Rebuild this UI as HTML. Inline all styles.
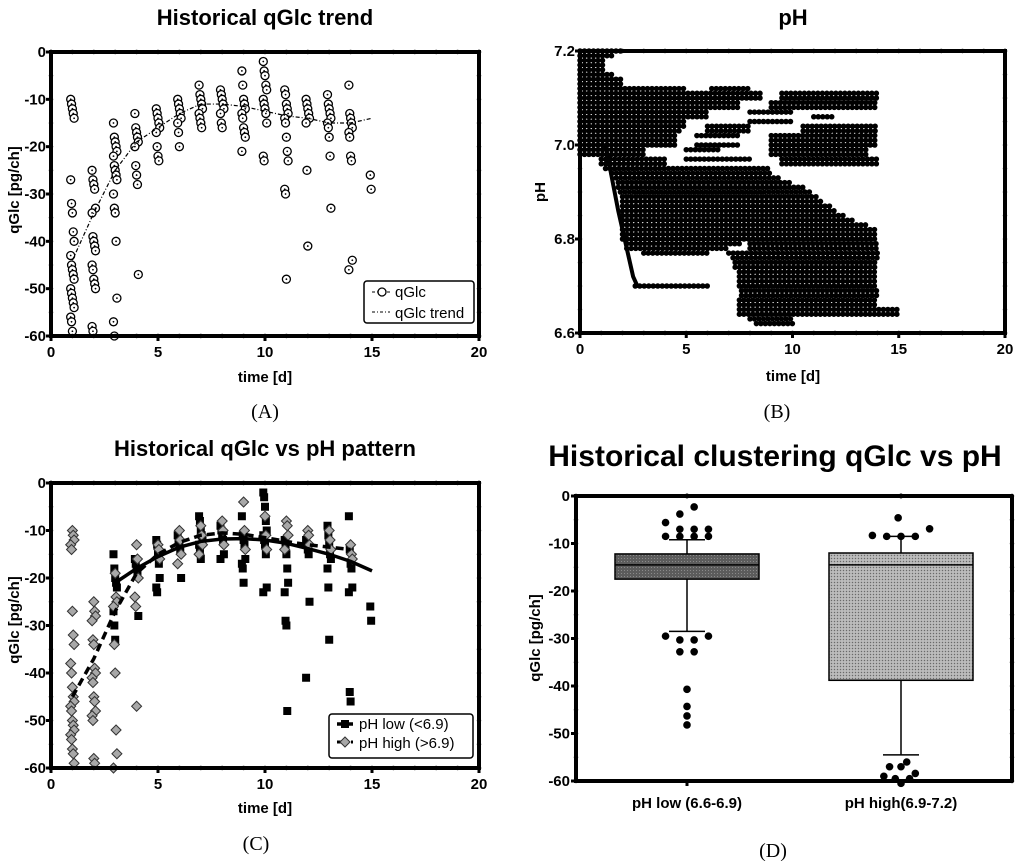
<!DOCTYPE html>
<html><head><meta charset="utf-8"><style>
body{margin:0;background:#fff;}
svg{display:block;font-family:"Liberation Sans",Arial,sans-serif;}
.tl{font-size:15px;font-weight:bold;}
.ttl{font-size:22px;font-weight:bold;}
.pl{font-family:"Liberation Serif",serif;font-size:20px;}
</style></head><body>
<svg id="fig" width="1024" height="861" viewBox="0 0 1024 861">
<defs>
<pattern id="patLow" width="3" height="3" patternUnits="userSpaceOnUse"><rect width="3" height="3" fill="#5c5c5c"/><rect width="1" height="1" fill="#8a8a8a"/></pattern>
<pattern id="patHigh" width="3" height="3" patternUnits="userSpaceOnUse"><rect width="3" height="3" fill="#b0b0b0"/><rect width="1" height="1" fill="#6a6a6a"/><rect x="1.5" y="1.5" width="1" height="1" fill="#e0e0e0"/></pattern>
</defs>
</svg>
<script>
// ---------- DATA ----------
const days = [1,2,3,4,5,6,7,8,9,10,11,12,13,14,15];
const qGlcByDay = [
 [-10,-11,-12,-13,-14,-27,-32,-34,-38,-40,-43,-45,-46,-47,-48,-50,-51,-52,-53,-54,-56,-57,-59],
 [-25,-27,-28,-29,-33,-34,-39,-40,-41,-42,-45,-46,-48,-49,-50,-58,-59],
 [-15,-18,-19,-20,-21,-22,-24,-25,-26,-27,-30,-33,-34,-40,-52,-57,-60],
 [-13,-16,-17,-18,-19,-20,-24,-26,-28,-47],
 [-12,-13,-14,-15,-16,-17,-20,-22,-23],
 [-10,-11,-12,-13,-14,-15,-17,-20],
 [-7,-9,-10,-11,-12,-13,-14,-15,-16],
 [-8,-9,-10,-11,-12,-13,-15,-16],
 [-4,-7,-10,-11,-12,-13,-14,-16,-17,-18,-21],
 [-2,-4,-5,-7,-8,-10,-11,-12,-13,-15,-22,-23],
 [-8,-9,-11,-12,-13,-14,-15,-18,-21,-23,-29,-30,-48],
 [-10,-11,-12,-13,-14,-15,-25,-41],
 [-9,-11,-12,-13,-14,-15,-16,-18,-22,-33],
 [-7,-13,-14,-15,-16,-17,-18,-22,-23,-44,-46],
 [-26,-29]
];
const trendDays = [1,2,3,4,5,6,7,8,9,10,11,12,13,14,15];
const trendVals = [-44,-34,-25,-19,-16,-13,-11,-11,-11.5,-12.5,-13.5,-14,-15,-15,-14];

const highByDay = [
 [-10,-11,-12,-13,-14,-27,-32,-34,-38,-40,-43,-45,-46,-47,-48,-50,-51,-52,-53,-54,-56,-57,-59],
 [-25,-27,-28,-29,-33,-34,-39,-40,-41,-42,-45,-46,-48,-49,-50,-58,-59],
 [-19,-24,-25,-26,-34,-40,-52,-57,-60],
 [-13,-16,-20,-24,-26,-47],
 [-13,-14,-16],[-10,-12,-15,-17],[-9,-11,-13,-15],[-8,-10,-13],[-4,-10,-14],[-7,-11,-14],
 [-8,-9,-11,-14],[-10,-11,-13],[-10,-12,-14],[-13,-15,-16],[]
];
const lowByDay = [
 [],[],
 [-15,-18,-20,-21,-22,-27,-30,-33],
 [-16,-17,-18,-19,-28],
 [-12,-13,-15,-17,-20,-22,-23],
 [-11,-12,-13,-14,-20],
 [-7,-8,-10,-11,-12,-13,-14,-16],
 [-9,-10,-11,-12,-15,-16],
 [-7,-11,-12,-13,-16,-17,-18,-21],
 [-2,-3,-5,-8,-10,-11,-12,-13,-15,-22,-23],
 [-12,-13,-15,-18,-21,-23,-29,-30,-48],
 [-12,-13,-14,-15,-25,-41],
 [-9,-11,-13,-15,-16,-18,-22,-33],
 [-7,-14,-17,-18,-22,-23,-44,-46],
 [-26,-29]
];
const lowFitDays = [3,4,5,6,7,8,9,10,11,12,13,14,15];
const lowFitVals = [-21,-18,-15.5,-13.5,-12.3,-11.8,-11.7,-12,-12.7,-13.8,-15,-16.5,-18.5];
const highFitDays = [1,2,3,4,5,6,7,8,9,10,11,12,13,14];
const highFitVals = [-45,-37,-27,-19,-15,-12.5,-11,-10.5,-10.8,-11.5,-12.3,-13,-13.5,-14];

// pH rows: level, start day, end day
const phLevel = [7.20,7.19,7.18,7.17,7.16,7.15,7.14,7.13,7.12,7.12,7.11,7.11,7.10,7.10,7.09,7.09,7.08,7.08,7.07,7.07,7.06,7.06,7.05,7.05,7.04,7.04,7.04,7.03,7.03,7.03,7.02,7.02,7.02,7.01,7.01,7.00,7.00,7.00,6.99,6.99,6.99,6.98,6.98,6.97,6.97,6.97,6.96,6.96,6.95,6.94,6.93,6.92,6.91,6.90,6.89,6.88,6.87,6.86,6.85,6.84,6.83,6.82,6.81,6.80,6.79,6.79,6.78,6.78,6.77,6.77,6.76,6.75,6.74,6.73,6.72,6.71,6.70,6.70,6.69,6.68,6.67,6.66,6.65,6.64,6.63,6.62];
const phStart = [0,0,0,0,0,0,0,0,0,6.2,0,9.5,0,9.5,0,9,0,9,0,8,0,11,0,8,0,6,10.5,0,6,10.5,0,5.5,9,0,9,0,5.5,9,0,5,9,0,9,1,5,9.5,1,9.5,1.2,1.5,1.7,1.8,1.8,1.9,2,2,2,2,2,2,2,2,2,2,2.2,8,2.2,8,3,7,7.2,7.3,7.3,7.5,7.5,7.5,2.6,7.5,7.6,7.6,7.5,7.5,7.5,7.5,8,8.3];
const phEnd = [2,1.5,1.2,1.2,1.2,1.5,2,2,5,8,8.5,14,8.5,14,7.5,14,7.5,14,6,10,6,12,5,10,5,8,14,4.8,8,14,4.5,7.5,14,4.5,14,4.5,7.5,14,3,6.5,13.5,3,13.5,4,8,14,4,14,9,9,9.5,10,10.5,11,11.2,11.5,11.8,12,12.5,13,13.5,14,14,14,7.5,14,7,14,6,14,14,14,14,14,14,14,6,14,14,14,14,14,15,15,10,10];
const phDiagT = [1.2,1.5,1.8,2.1,2.3,2.5,2.7];
const phDiagV = [7.0,6.93,6.86,6.8,6.76,6.72,6.7];

// Box plot D
const boxCats = ["pH low (6.6-6.9)","pH high(6.9-7.2)"];
const boxQ1 = [-12.2,-12];
const boxMed = [-14.5,-14.5];
const boxQ3 = [-17.5,-38.8];
const whiskTop = [-9.2,-8.5];
const whiskBot = [-28.5,-54.5];
const outLow = [-2.3,-3.8,-5.6,-7,-7,-7,-8.5,-8.5,-8.5,-8.5,-29.5,-29.5,-30.3,-30.3,-32.8,-32.8,-40.7,-44.3,-46.3,-48.2];
const outLowOff = [0.05,-0.05,-0.15,-0.05,0.05,0.15,-0.15,-0.05,0.05,0.15,-0.15,0.15,-0.05,0.05,-0.05,0.05,0,0,0,0];
const outHigh = [-4.6,-6.9,-8.3,-8.5,-8.5,-8.5,-56,-57,-57,-58.4,-59,-59.5,-59.5,-60.5];
const outHighOff = [-0.02,0.2,-0.2,-0.1,0,0.1,0.04,-0.08,0,0.1,-0.12,-0.04,0.06,0];

// ---------- HELPERS ----------
const NS="http://www.w3.org/2000/svg";
const svg=document.getElementById('fig');
function el(tag,attrs,parent,text){const e=document.createElementNS(NS,tag);for(const k in attrs)e.setAttribute(k,attrs[k]);if(text!==undefined)e.textContent=text;(parent||svg).appendChild(e);return e;}
function lin(d0,d1,r0,r1){return v=>r0+(v-d0)*(r1-r0)/(d1-d0);}
function frame(g,L,T,R,B,xTicks,xMinor,yTicks,yMinor,sx,sy,xfmt,yfmt){
  const f=el('rect',{x:L,y:T,width:R-L,height:B-T,fill:'none',stroke:'#000','stroke-width':4},g);
  
  
  xMinor.forEach(v=>{el('circle',{cx:sx(v),cy:T,r:2.2},g);el('circle',{cx:sx(v),cy:B,r:2.2},g);});
  yMinor.forEach(v=>{el('circle',{cx:L,cy:sy(v),r:2.2},g);el('circle',{cx:R,cy:sy(v),r:2.2},g);});
  xTicks.forEach(v=>{el('line',{x1:sx(v),x2:sx(v),y1:B,y2:B+5,stroke:'#000','stroke-width':3},g);
    const t=el('text',{x:sx(v),y:B+21,'text-anchor':'middle',class:'tl'},g,xfmt(v));
    
    });
  yTicks.forEach(v=>{el('line',{x1:L-5,x2:L,y1:sy(v),y2:sy(v),stroke:'#000','stroke-width':3},g);
    const t=el('text',{x:L-5,y:sy(v)+5,'text-anchor':'end',class:'tl'},g,yfmt(v));
    
    });
}
function range(a,b,s){const r=[];for(let v=a;v<=b+1e-9;v+=s)r.push(+v.toFixed(3));return r;}
function grp(name){const g=el('g',{});return g;}
function jit(i){return ((i%5)-2)*0.04;}

// ---------- PANEL A ----------
(function(){
const g=grp('panel-a');
const L=51,R=479,T=52,B=336;
const sx=lin(0,20,L,R), sy=lin(0,-60,T,B);
const t=el('text',{x:265,y:25,'text-anchor':'middle',class:'ttl'},g,'Historical qGlc trend');

const pts=grp('qglc-points');g.appendChild(pts);
days.forEach((d,i)=>qGlcByDay[i].forEach((v,j)=>{
  const c=el('circle',{cx:sx(d+jit(j)),cy:sy(v),r:4,fill:'#fff',stroke:'#000','stroke-width':1.3},pts);
  
  el('circle',{cx:sx(d+jit(j)),cy:sy(v),r:0.9,fill:'#000'},pts);
}));
const p=el('polyline',{points:trendDays.map((d,i)=>sx(d)+','+sy(trendVals[i])).join(' '),fill:'none',stroke:'#000','stroke-width':1.2,'stroke-dasharray':'4 2 1 2'},g);

frame(g,L,T,R,B,[0,5,10,15,20],range(0,20,1),[0,-10,-20,-30,-40,-50,-60],range(-60,0,5),sx,sy,v=>v,v=>v);
const xl=el('text',{x:265,y:382,'text-anchor':'middle',class:'tl'},g,'time [d]');

const yl=el('text',{x:0,y:0,'text-anchor':'middle',class:'tl',transform:'translate(19,190) rotate(-90)'},g,'qGlc [pg/ch]');

const lg=grp('legend');g.appendChild(lg);
el('rect',{x:364,y:281,width:110,height:42,rx:3,fill:'#fff',stroke:'#000','stroke-width':1.5},lg);
el('line',{x1:372,x2:392,y1:292,y2:292,stroke:'#000','stroke-dasharray':'3 2'},lg);
el('circle',{cx:382,cy:292,r:4,fill:'#fff',stroke:'#000','stroke-width':1.3},lg);
el('line',{x1:372,x2:390,y1:312,y2:312,stroke:'#000','stroke-dasharray':'3 2 1 2'},lg);
el('text',{x:395,y:297,'font-size':'15'},lg,'qGlc');
el('text',{x:395,y:318,'font-size':'15'},lg,'qGlc trend');
const pl=el('text',{x:265,y:418,'text-anchor':'middle',class:'pl'},g,'(A)');

})();

// ---------- PANEL B ----------
(function(){
const g=grp('panel-b');
const L=580,R=1005,T=51,B=333;
const sx=lin(0,20,L,R), sy=lin(6.6,7.2,B,T);
const t=el('text',{x:793,y:25,'text-anchor':'middle',class:'ttl'},g,'pH');

const rows=grp('ph-points');g.appendChild(rows);
phLevel.forEach((v,i)=>{
  const l=el('line',{x1:sx(phStart[i]),x2:sx(phEnd[i]),y1:sy(v),y2:sy(v),stroke:'#000','stroke-width':5.5,'stroke-linecap':'round','stroke-dasharray':'0 4.5'},rows);
  
});
const dg=el('polyline',{points:phDiagT.map((d,i)=>sx(d)+','+sy(phDiagV[i])).join(' '),fill:'none',stroke:'#000','stroke-width':4},g);

frame(g,L,T,R,B,[0,5,10,15,20],range(0,20,1),[6.6,6.8,7.0,7.2],range(6.6,7.2,0.05),sx,sy,v=>v,v=>v.toFixed(1));
const xl=el('text',{x:793,y:381,'text-anchor':'middle',class:'tl'},g,'time [d]');

const yl=el('text',{x:0,y:0,'text-anchor':'middle',class:'tl',transform:'translate(545,192) rotate(-90)'},g,'pH');

const pl=el('text',{x:777,y:418,'text-anchor':'middle',class:'pl'},g,'(B)');

})();

// ---------- PANEL C ----------
(function(){
const g=grp('panel-c');
const L=51,R=479,T=483,B=768;
const sx=lin(0,20,L,R), sy=lin(0,-60,T,B);
const t=el('text',{x:265,y:456,'text-anchor':'middle',class:'ttl'},g,'Historical qGlc vs pH pattern');

const lo=grp('ph-low-points');g.appendChild(lo);
days.forEach((d,i)=>lowByDay[i].forEach((v,j)=>{
  const r=el('rect',{x:sx(d+jit(j))-4,y:sy(v)-4,width:8,height:8,fill:'#000'},lo);
  
}));
const hi=grp('ph-high-points');g.appendChild(hi);
days.forEach((d,i)=>highByDay[i].forEach((v,j)=>{
  const x=sx(d+jit(j+2)),y=sy(v);
  const p=el('polygon',{points:`${x},${y-5} ${x+5},${y} ${x},${y+5} ${x-5},${y}`,fill:'#a8a8a8',stroke:'#333','stroke-width':1},hi);
  
}));
const f1=el('polyline',{points:lowFitDays.map((d,i)=>sx(d)+','+sy(lowFitVals[i])).join(' '),fill:'none',stroke:'#000','stroke-width':3.5},g);

const f2=el('polyline',{points:highFitDays.map((d,i)=>sx(d)+','+sy(highFitVals[i])).join(' '),fill:'none',stroke:'#000','stroke-width':3.5,'stroke-dasharray':'8 5'},g);

frame(g,L,T,R,B,[0,5,10,15,20],range(0,20,1),[0,-10,-20,-30,-40,-50,-60],range(-60,0,5),sx,sy,v=>v,v=>v);
const xl=el('text',{x:265,y:813,'text-anchor':'middle',class:'tl'},g,'time [d]');

const yl=el('text',{x:0,y:0,'text-anchor':'middle',class:'tl',transform:'translate(19,620) rotate(-90)'},g,'qGlc [pg/ch]');

const lg=grp('legend');g.appendChild(lg);
el('rect',{x:329,y:714,width:144,height:44,rx:3,fill:'#fff',stroke:'#000','stroke-width':1.5},lg);
el('line',{x1:337,x2:353,y1:724,y2:724,stroke:'#000','stroke-width':3.5},lg);
el('rect',{x:341,y:720,width:8,height:8},lg);
el('line',{x1:337,x2:353,y1:742,y2:742,stroke:'#000','stroke-width':3,'stroke-dasharray':'4 3'},lg);
el('polygon',{points:'345,737 350,742 345,747 340,742',fill:'#a8a8a8',stroke:'#333'},lg);
el('text',{x:359,y:729,'font-size':'15'},lg,'pH low (<6.9)');
el('text',{x:359,y:748,'font-size':'15'},lg,'pH high (>6.9)');
const pl=el('text',{x:256,y:850,'text-anchor':'middle',class:'pl'},g,'(C)');

})();

// ---------- PANEL D ----------
(function(){
const g=grp('panel-d');
const L=576,R=1012,T=496,B=781;
const sy=lin(0,-60,T,B);
const cx=[687,901]; const bw=144; const cap=36;
const t=el('text',{x:775,y:466,'text-anchor':'middle','font-size':'30','font-weight':'bold'},g,'Historical clustering qGlc vs pH');

boxCats.forEach((c,i)=>{
  const x=cx[i];
  const w=el('line',{x1:x,x2:x,y1:sy(whiskTop[i]),y2:sy(whiskBot[i]),stroke:'#000','stroke-width':1.5},g);
  
  el('line',{x1:x-cap/2,x2:x+cap/2,y1:sy(whiskTop[i]),y2:sy(whiskTop[i]),stroke:'#000','stroke-width':1.5},g);
  el('line',{x1:x-cap/2,x2:x+cap/2,y1:sy(whiskBot[i]),y2:sy(whiskBot[i]),stroke:'#000','stroke-width':1.5},g);
  const b=el('rect',{x:x-bw/2,y:sy(boxQ1[i]),width:bw,height:sy(boxQ3[i])-sy(boxQ1[i]),fill:i?'url(#patHigh)':'url(#patLow)',stroke:'#000','stroke-width':1.5},g);
  
  el('line',{x1:x-bw/2,x2:x+bw/2,y1:sy(boxMed[i]),y2:sy(boxMed[i]),stroke:'#000','stroke-width':1.5},g);
  const lb=el('text',{x:x,y:B+27,'text-anchor':'middle','font-size':'15','font-weight':'bold'},g,c);
  
  el('line',{x1:x,x2:x,y1:B,y2:B+5,stroke:'#000','stroke-width':3},g);
  el('circle',{cx:x,cy:T,r:2.5},g);
});
outLow.forEach((v,i)=>{const c=el('circle',{cx:cx[0]+outLowOff[i]*143,cy:sy(v),r:3.8},g);
  });
outHigh.forEach((v,i)=>{const c=el('circle',{cx:cx[1]+outHighOff[i]*143,cy:sy(v),r:3.8},g);
  });
const f=el('path',{d:`M${R},${T} L${L},${T} L${L},${B} L${R},${B}`,fill:'none',stroke:'#000','stroke-width':4},g);

el('line',{x1:R,x2:R,y1:T,y2:B,stroke:'#000','stroke-width':4},g);
[0,-10,-20,-30,-40,-50,-60].forEach(v=>{
  el('line',{x1:L-5,x2:L,y1:sy(v),y2:sy(v),stroke:'#000','stroke-width':3},g);
  const tl=el('text',{x:L-6,y:sy(v)+5,'text-anchor':'end',class:'tl'},g,v);
  
});
range(-60,0,5).forEach(v=>{el('circle',{cx:L,cy:sy(v),r:2.2},g);el('circle',{cx:R,cy:sy(v),r:2.2},g);});
const yl=el('text',{x:0,y:0,'text-anchor':'middle',class:'tl',transform:'translate(540,638) rotate(-90)'},g,'qGlc [pg/ch]');

const pl=el('text',{x:773,y:857,'text-anchor':'middle',class:'pl'},g,'(D)');

})();
</script>
</body></html>
